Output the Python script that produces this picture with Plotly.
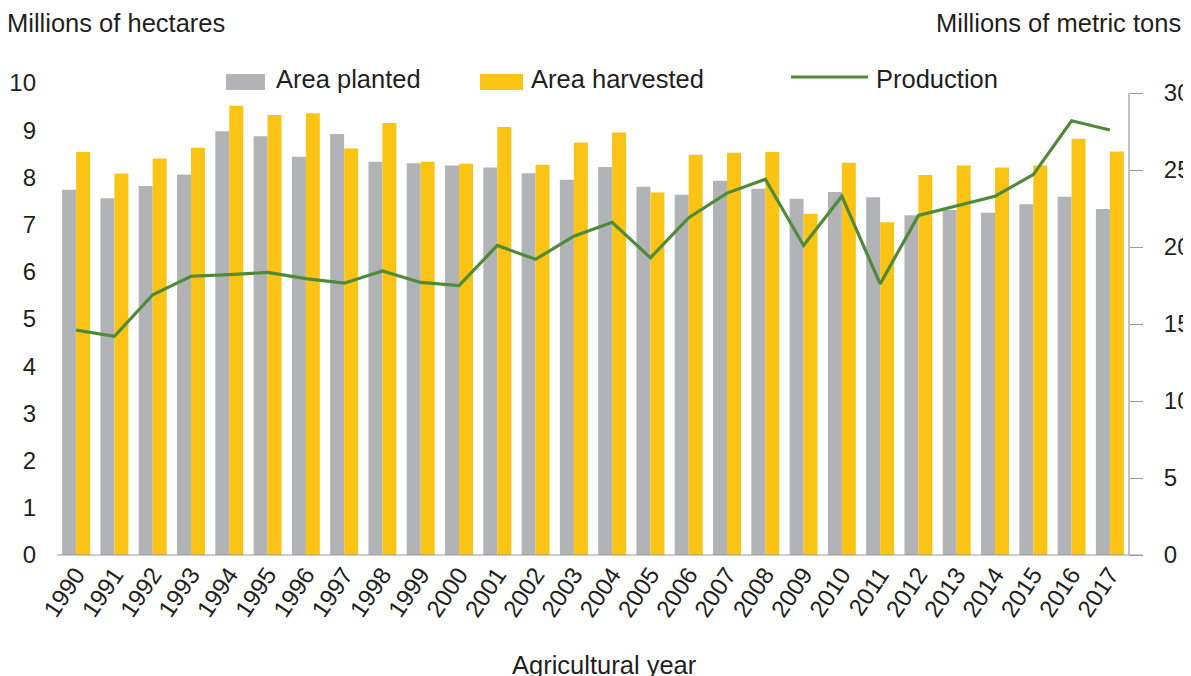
import plotly.graph_objects as go

# Data
years = [str(y) for y in range(1990, 2018)]
area_planted = [7.74, 7.56, 7.82, 8.06, 8.98, 8.87, 8.44, 8.92, 8.33, 8.30,
                8.25, 8.21, 8.09, 7.95, 8.22, 7.80, 7.63, 7.93, 7.76, 7.55,
                7.69, 7.58, 7.20, 7.31, 7.25, 7.43, 7.59, 7.33]
area_harvested = [8.54, 8.08, 8.40, 8.63, 9.52, 9.32, 9.36, 8.61, 9.15, 8.33,
                  8.29, 9.07, 8.27, 8.74, 8.95, 7.68, 8.48, 8.52, 8.54, 7.23,
                  8.31, 7.05, 8.05, 8.25, 8.21, 8.25, 8.82, 8.55]
production = [14.6, 14.2, 16.9, 18.1, 18.2, 18.35, 17.95, 17.65, 18.45, 17.7,
              17.5, 20.1, 19.2, 20.7, 21.6, 19.3, 21.9, 23.5, 24.4, 20.1,
              23.3, 17.6, 22.05, 22.7, 23.3, 24.7, 28.2, 27.6]
left_ticks = list(range(0, 11))
right_ticks = [0, 5, 10, 15, 20, 25, 30]

GRAY = "#b2b3b7"
YELLOW = "#fbc314"
GREEN = "#4f8a38"
TEXT = "#231f20"
AXIS = "#9a9a9a"
FONT = "Liberation Sans, Arial, Helvetica, sans-serif"

# page offset of the figure (body margin); keep the figure inside the window width
OFF = 8
W, H = 1191 - 2 * OFF, 676 - OFF
# plot area in window pixels: x 57..1129, y 83..555
L, T = 57 - OFF, 83 - OFF
R, B = W - (1129 - OFF), H - (555 - OFF)
PW, PH = 1129 - 57, 555 - 83


def px(x):
    return (x - 57) / PW


def py(y):
    return (555 - y) / PH


fig = go.Figure()
fig.add_trace(go.Bar(x=years, y=area_planted, name="Area planted",
                     marker=dict(color=GRAY, line=dict(width=0))))
fig.add_trace(go.Bar(x=years, y=area_harvested, name="Area harvested",
                     marker=dict(color=YELLOW, line=dict(width=0))))
fig.add_trace(go.Scatter(x=years, y=production, name="Production", yaxis="y2",
                         mode="lines", line=dict(color=GREEN, width=3.2)))

shapes = [
    # bottom axis line, runs under the right-axis ticks
    dict(type="line", xref="paper", yref="paper", x0=0, x1=px(1142), y0=0, y1=0,
         line=dict(color=AXIS, width=1.2)),
    # right axis line, only up to 30
    dict(type="line", xref="paper", yref="y2", x0=1, x1=1, y0=0, y1=30,
         line=dict(color=AXIS, width=1.2)),
    # custom legend swatches
    dict(type="rect", xref="paper", yref="paper", x0=px(226), x1=px(265),
         y0=py(90), y1=py(74), fillcolor=GRAY, line=dict(width=0)),
    dict(type="rect", xref="paper", yref="paper", x0=px(480), x1=px(523),
         y0=py(90), y1=py(74), fillcolor=YELLOW, line=dict(width=0)),
    dict(type="line", xref="paper", yref="paper", x0=px(791), x1=px(868),
         y0=py(77), y1=py(77), line=dict(color=GREEN, width=3.2)),
]

ann_font = dict(family=FONT, size=25.5, color=TEXT)
annotations = [
    dict(text="Area planted", x=px(274), y=py(79), xanchor="left", yanchor="middle"),
    dict(text="Area harvested", x=px(529), y=py(79), xanchor="left", yanchor="middle"),
    dict(text="Production", x=px(874), y=py(79), xanchor="left", yanchor="middle"),
    dict(text="Millions of hectares", x=px(5), y=py(23), xanchor="left", yanchor="middle"),
    dict(text="Millions of metric tons", x=px(1183), y=py(23), xanchor="right", yanchor="middle"),
    dict(text="Agricultural year", x=px(604), y=py(665), xanchor="center", yanchor="middle"),
]
for a in annotations:
    a.update(xref="paper", yref="paper", showarrow=False, font=ann_font)

fig.update_layout(
    width=W, height=H,
    margin=dict(l=L, r=R, t=T, b=B, pad=0),
    barmode="group", bargap=0.27, bargroupgap=0,
    showlegend=False,
    plot_bgcolor="white", paper_bgcolor="white",
    font=dict(family=FONT, size=24, color=TEXT),
    xaxis=dict(
        type="category", tickangle=-56, showgrid=False, showline=False,
        ticks="", zeroline=False, automargin=False,
        tickfont=dict(size=24, color=TEXT),
    ),
    yaxis=dict(
        range=[0, 10], tickvals=left_ticks, showgrid=False, showline=False,
        zeroline=False, ticks="", ticklabelstandoff=20, automargin=False,
        tickfont=dict(size=24, color=TEXT),
    ),
    yaxis2=dict(
        overlaying="y", side="right", range=[0, 30 * PH / 462],
        tickvals=right_ticks, showgrid=False, showline=False, zeroline=False,
        ticks="outside", ticklen=13, tickcolor=AXIS, tickwidth=1.2,
        ticklabelstandoff=16, automargin=False,
        tickfont=dict(size=24, color=TEXT),
    ),
    shapes=shapes,
    annotations=annotations,
)

fig.write_html("out.html")
